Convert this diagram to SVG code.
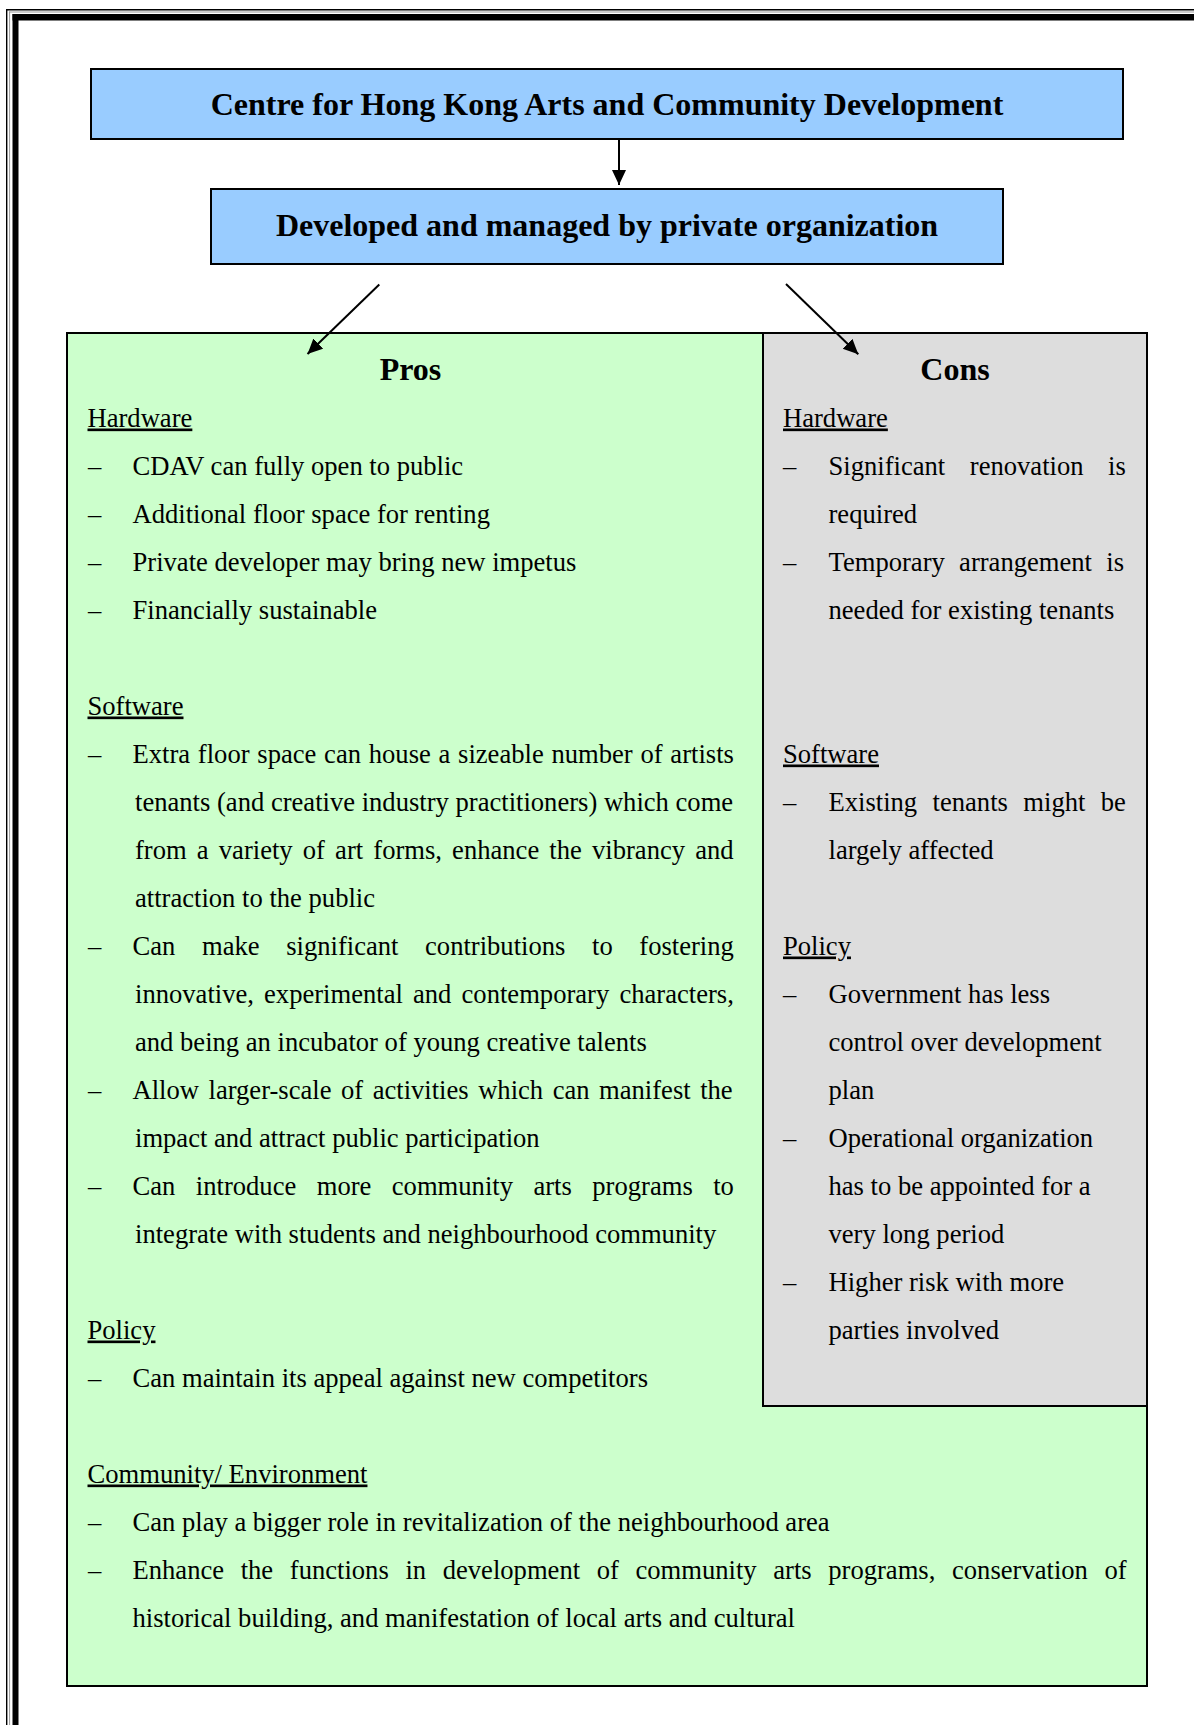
<svg xmlns="http://www.w3.org/2000/svg" width="1194" height="1725" viewBox="0 0 1194 1725">
<style>
.t{font-family:"Liberation Serif","Times New Roman",serif;font-size:26.6px;fill:#000}
.h{font-family:"Liberation Serif","Times New Roman",serif;font-size:26.6px;fill:#000;text-decoration:underline}
.b{font-family:"Liberation Serif","Times New Roman",serif;font-size:32px;font-weight:bold;fill:#000;text-anchor:middle}
.box{stroke:#000;stroke-width:2}
.conn{stroke:#000;stroke-width:2;fill:none}
</style>
<defs>
<marker id="ah" markerUnits="userSpaceOnUse" markerWidth="16" markerHeight="15" refX="15" refY="7" orient="auto">
<path d="M0,0 L15,7 L0,14 z" fill="#000"/>
</marker>
</defs>
<rect width="1194" height="1725" fill="#fff"/>
<g id="frame">
<line x1="6.7" y1="9" x2="6.7" y2="1725" stroke="#000" stroke-width="1.4"/>
<line x1="6" y1="9.7" x2="1194" y2="9.7" stroke="#000" stroke-width="1.4"/>
<line x1="9.6" y1="11.5" x2="9.6" y2="1725" stroke="#999" stroke-width="1"/>
<line x1="9" y1="12" x2="1194" y2="12" stroke="#999" stroke-width="1"/>
<line x1="15.5" y1="14" x2="15.5" y2="1725" stroke="#000" stroke-width="6"/>
<line x1="12.5" y1="17.25" x2="1194" y2="17.25" stroke="#000" stroke-width="6.5"/>
</g>
<g id="title1">
<rect class="box" x="91" y="69" width="1032" height="70" fill="#99CCFF"/>
<text class="b" x="607" y="115">Centre for Hong Kong Arts and Community Development</text>
</g>
<g id="title2">
<rect class="box" x="211" y="189" width="792" height="75" fill="#99CCFF"/>
<text class="b" x="607" y="236">Developed and managed by private organization</text>
</g>
<g id="pros">
<rect class="box" x="67" y="333" width="1080" height="1353" fill="#CCFFCC"/>
<text class="b" x="410.5" y="380">Pros</text>
<g transform="translate(0,1.5)">
<text class="h" x="87.5" y="425">Hardware</text>
<text class="t" x="88" y="473">–</text><text class="t" x="132.5" y="473">CDAV can fully open to public</text>
<text class="t" x="88" y="521">–</text><text class="t" x="132.5" y="521">Additional floor space for renting</text>
<text class="t" x="88" y="569">–</text><text class="t" x="132.5" y="569">Private developer may bring new impetus</text>
<text class="t" x="88" y="617">–</text><text class="t" x="132.5" y="617">Financially sustainable</text>
<text class="h" x="87.5" y="713">Software</text>
<text class="t" x="88" y="761">–</text><text class="t" x="132.5" y="761" word-spacing="1.1">Extra floor space can house a sizeable number of artists</text>
<text class="t" x="135" y="809">tenants (and creative industry practitioners) which come</text>
<text class="t" x="135" y="857" word-spacing="3.5">from a variety of art forms, enhance the vibrancy and</text>
<text class="t" x="135" y="905">attraction to the public</text>
<text class="t" x="88" y="953">–</text><text class="t" x="132.5" y="953" word-spacing="19.97">Can make significant contributions to fostering</text>
<text class="t" x="135" y="1001" word-spacing="3.5">innovative, experimental and contemporary characters,</text>
<text class="t" x="135" y="1049">and being an incubator of young creative talents</text>
<text class="t" x="88" y="1097">–</text><text class="t" x="132.5" y="1097" word-spacing="2.86">Allow larger-scale of activities which can manifest the</text>
<text class="t" x="135" y="1145">impact and attract public participation</text>
<text class="t" x="88" y="1193">–</text><text class="t" x="132.5" y="1193" word-spacing="13.82">Can introduce more community arts programs to</text>
<text class="t" x="135" y="1241">integrate with students and neighbourhood community</text>
<text class="h" x="87.5" y="1337">Policy</text>
<text class="t" x="88" y="1385">–</text><text class="t" x="132.5" y="1385">Can maintain its appeal against new competitors</text>
<text class="h" x="87.5" y="1481">Community/ Environment</text>
<text class="t" x="88" y="1529">–</text><text class="t" x="132.5" y="1529">Can play a bigger role in revitalization of the neighbourhood area</text>
<text class="t" x="88" y="1577">–</text><text class="t" x="132.5" y="1577" word-spacing="9.98">Enhance the functions in development of community arts programs, conservation of</text>
<text class="t" x="132.5" y="1625">historical building, and manifestation of local arts and cultural</text>
</g>
</g>
<g id="cons">
<rect class="box" x="763" y="333" width="384" height="1073" fill="#DDDDDD"/>
<text class="b" x="955" y="380">Cons</text>
<g transform="translate(0,1.5)">
<text class="h" x="783" y="425">Hardware</text>
<text class="t" x="783" y="473">–</text><text class="t" x="828.5" y="473" word-spacing="17.95">Significant renovation is</text>
<text class="t" x="828.5" y="521">required</text>
<text class="t" x="783" y="569">–</text><text class="t" x="828.5" y="569" word-spacing="7.65">Temporary arrangement is</text>
<text class="t" x="828.5" y="617">needed for existing tenants</text>
<text class="h" x="783" y="761">Software</text>
<text class="t" x="783" y="809">–</text><text class="t" x="828.5" y="809" word-spacing="8.78">Existing tenants might be</text>
<text class="t" x="828.5" y="857">largely affected</text>
<text class="h" x="783" y="953">Policy</text>
<text class="t" x="783" y="1001">–</text><text class="t" x="828.5" y="1001">Government has less</text>
<text class="t" x="828.5" y="1049">control over development</text>
<text class="t" x="828.5" y="1097">plan</text>
<text class="t" x="783" y="1145">–</text><text class="t" x="828.5" y="1145">Operational organization</text>
<text class="t" x="828.5" y="1193">has to be appointed for a</text>
<text class="t" x="828.5" y="1241">very long period</text>
<text class="t" x="783" y="1289">–</text><text class="t" x="828.5" y="1289">Higher risk with more</text>
<text class="t" x="828.5" y="1337">parties involved</text>
</g>
</g>
<g id="connectors">
<line class="conn" x1="619" y1="139" x2="619" y2="185" marker-end="url(#ah)"/>
<line class="conn" x1="379.3" y1="284.5" x2="307.5" y2="354" marker-end="url(#ah)"/>
<line class="conn" x1="786" y1="284" x2="858.3" y2="354.3" marker-end="url(#ah)"/>
</g>
</svg>
